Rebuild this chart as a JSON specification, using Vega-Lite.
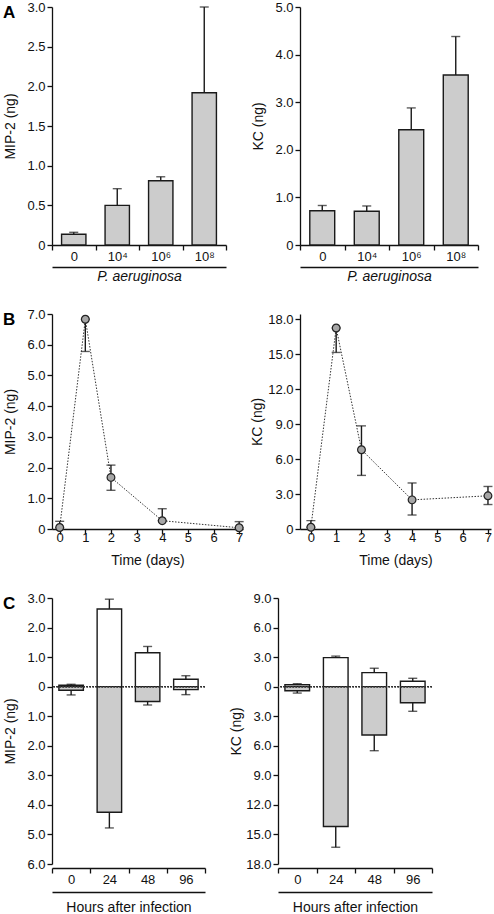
{
  "$schema": "https://vega.github.io/schema/vega-lite/v6.json",
  "background": "white",
  "padding": {"left": 3, "top": 1, "right": 2, "bottom": 0},
  "bounds": "full",
  "spacing": 25,
  "config": {
    "font": "Liberation Sans",
    "view": {"stroke": null},
    "axis": {"grid": false, "domainColor": "#111111", "tickColor": "#111111", "domainWidth": 1.3, "tickWidth": 1.3, "tickSize": 5, "labelFont": "Liberation Sans", "labelFontSize": 13, "labelColor": "#111111", "titleFont": "Liberation Sans", "titleFontSize": 14, "titleFontWeight": "normal", "titleColor": "#111111", "labelPadding": 2, "labelFlush": false, "labelOverlap": false},
    "axisX": {"labelPadding": 0},
    "title": {"font": "Liberation Sans", "fontSize": 17, "fontWeight": "bold", "anchor": "start", "frame": "group", "color": "#000000"}
  },
  "vconcat": [
    {
      "bounds": "flush",
      "spacing": 74,
      "hconcat": [
        {
          "width": 174, "height": 238,
          "title": {"text": "A", "dx": -49, "dy": 10, "offset": -24, "baseline": "alphabetic"},
          "data": {"values": [
            {"dose": "0", "mean": 0.135, "err": 0.16},
            {"dose": "10⁴", "mean": 0.50, "err": 0.71},
            {"dose": "10⁶", "mean": 0.81, "err": 0.86},
            {"dose": "10⁸", "mean": 1.92, "err": 3.0}
          ]},
          "resolve": {"axis": {"x": "independent"}},
          "layer": [
            {
              "mark": {"type": "bar", "fill": "#cccccc", "stroke": "#1a1a1a", "strokeWidth": 1.4, "width": {"band": 0.56}},
              "encoding": {
                "x": {"field": "dose", "type": "nominal", "sort": null, "scale": {"paddingInner": 0, "paddingOuter": 0}, "axis": {"title": null, "labelAngle": 0, "tickBand": "extent", "orient": "bottom"}},
                "y": {"field": "mean", "type": "quantitative", "scale": {"domain": [0, 3]}, "axis": {"title": "MIP-2 (ng)", "values": [0, 0.5, 1, 1.5, 2, 2.5, 3], "tickCount": 20, "labelExpr": "datum.value == 0 ? '0' : format(abs(datum.value), '.1f')", "titlePadding": 9}}
              }
            },
            {
              "mark": {"type": "rule", "stroke": "#1a1a1a", "strokeWidth": 1.4},
              "encoding": {
                "x": {"field": "dose", "type": "nominal", "sort": null, "axis": {"orient": "bottom", "offset": 22, "labels": false, "ticks": false, "domain": true, "title": "P. aeruginosa", "titleFontStyle": "italic", "titlePadding": 2}},
                "y": {"field": "mean", "type": "quantitative"},
                "y2": {"field": "err"}
              }
            },
            {
              "mark": {"type": "tick", "orient": "horizontal", "color": "#1a1a1a", "size": 9, "thickness": 1.4},
              "encoding": {
                "x": {"field": "dose", "type": "nominal", "sort": null, "axis": null},
                "y": {"field": "err", "type": "quantitative"}
              }
            }
          ]
        },
        {
          "width": 178, "height": 238,
          "data": {"values": [
            {"dose": "0", "mean": 0.72, "err": 0.83},
            {"dose": "10⁴", "mean": 0.71, "err": 0.82},
            {"dose": "10⁶", "mean": 2.42, "err": 2.88},
            {"dose": "10⁸", "mean": 3.57, "err": 4.38}
          ]},
          "resolve": {"axis": {"x": "independent"}},
          "layer": [
            {
              "mark": {"type": "bar", "fill": "#cccccc", "stroke": "#1a1a1a", "strokeWidth": 1.4, "width": {"band": 0.56}},
              "encoding": {
                "x": {"field": "dose", "type": "nominal", "sort": null, "scale": {"paddingInner": 0, "paddingOuter": 0}, "axis": {"title": null, "labelAngle": 0, "tickBand": "extent", "orient": "bottom"}},
                "y": {"field": "mean", "type": "quantitative", "scale": {"domain": [0, 5]}, "axis": {"title": "KC (ng)", "values": [0, 1, 2, 3, 4, 5], "tickCount": 20, "labelExpr": "datum.value == 0 ? '0' : format(abs(datum.value), '.1f')", "titlePadding": 9}}
              }
            },
            {
              "mark": {"type": "rule", "stroke": "#1a1a1a", "strokeWidth": 1.4},
              "encoding": {
                "x": {"field": "dose", "type": "nominal", "sort": null, "axis": {"orient": "bottom", "offset": 22, "labels": false, "ticks": false, "domain": true, "title": "P. aeruginosa", "titleFontStyle": "italic", "titlePadding": 2}},
                "y": {"field": "mean", "type": "quantitative"},
                "y2": {"field": "err"}
              }
            },
            {
              "mark": {"type": "tick", "orient": "horizontal", "color": "#1a1a1a", "size": 9, "thickness": 1.4},
              "encoding": {
                "x": {"field": "dose", "type": "nominal", "sort": null, "axis": null},
                "y": {"field": "err", "type": "quantitative"}
              }
            }
          ]
        }
      ]
    },
    {
      "bounds": "flush",
      "spacing": 57,
      "hconcat": [
        {
          "width": 191, "height": 215,
          "title": {"text": "B", "dx": -49, "dy": 10, "offset": -24, "baseline": "alphabetic"},
          "data": {"values": [
            {"day": 0, "mean": 0.05, "lo": 0.05, "hi": 0.25},
            {"day": 1, "mean": 6.83, "lo": 5.78, "hi": 6.83},
            {"day": 2, "mean": 1.68, "lo": 1.26, "hi": 2.08},
            {"day": 4, "mean": 0.27, "lo": 0.27, "hi": 0.66},
            {"day": 7, "mean": 0.04, "lo": 0.04, "hi": 0.24}
          ]},
          "encoding": {
            "x": {"field": "day", "type": "quantitative", "scale": {"domain": [-0.3, 7.15], "nice": false, "zero": false}, "axis": {"title": "Time (days)", "values": [0, 1, 2, 3, 4, 5, 6, 7], "tickCount": 20, "format": "d", "labelPadding": -3, "titlePadding": 9}}
          },
          "layer": [
            {
              "mark": {"type": "line", "stroke": "#333333", "strokeWidth": 1, "strokeDash": [1.5, 1.5]},
              "encoding": {
                "y": {"field": "mean", "type": "quantitative", "scale": {"domain": [0, 7], "nice": false}, "axis": {"title": "MIP-2 (ng)", "values": [0, 1, 2, 3, 4, 5, 6, 7], "tickCount": 20, "labelExpr": "datum.value == 0 ? '0' : format(abs(datum.value), '.1f')", "titlePadding": 9}}
              }
            },
            {
              "mark": {"type": "rule", "stroke": "#1a1a1a", "strokeWidth": 1.4},
              "encoding": {"y": {"field": "lo", "type": "quantitative"}, "y2": {"field": "hi"}}
            },
            {
              "mark": {"type": "tick", "orient": "horizontal", "color": "#1a1a1a", "size": 9, "thickness": 1.4},
              "encoding": {"y": {"field": "lo", "type": "quantitative"}}
            },
            {
              "mark": {"type": "tick", "orient": "horizontal", "color": "#1a1a1a", "size": 9, "thickness": 1.4},
              "encoding": {"y": {"field": "hi", "type": "quantitative"}}
            },
            {
              "mark": {"type": "circle", "size": 60, "fill": "#a6a6a6", "stroke": "#222222", "strokeWidth": 1.2, "opacity": 1},
              "encoding": {"y": {"field": "mean", "type": "quantitative"}}
            }
          ]
        },
        {
          "width": 191, "height": 215,
          "data": {"values": [
            {"day": 0, "mean": 0.15, "lo": 0.15, "hi": 0.72},
            {"day": 1, "mean": 17.25, "lo": 15.15, "hi": 17.25},
            {"day": 2, "mean": 6.8, "lo": 4.6, "hi": 8.85},
            {"day": 4, "mean": 2.5, "lo": 1.2, "hi": 3.95},
            {"day": 7, "mean": 2.85, "lo": 2.1, "hi": 3.65}
          ]},
          "encoding": {
            "x": {"field": "day", "type": "quantitative", "scale": {"domain": [-0.43, 7.12], "nice": false, "zero": false}, "axis": {"title": "Time (days)", "values": [0, 1, 2, 3, 4, 5, 6, 7], "tickCount": 20, "format": "d", "labelPadding": -3, "titlePadding": 9}}
          },
          "layer": [
            {
              "mark": {"type": "line", "stroke": "#333333", "strokeWidth": 1, "strokeDash": [1.5, 1.5]},
              "encoding": {
                "y": {"field": "mean", "type": "quantitative", "scale": {"domain": [0, 18.45], "nice": false}, "axis": {"title": "KC (ng)", "values": [0, 3, 6, 9, 12, 15, 18], "tickCount": 20, "labelExpr": "datum.value == 0 ? '0' : format(abs(datum.value), '.1f')", "titlePadding": 3}}
              }
            },
            {
              "mark": {"type": "rule", "stroke": "#1a1a1a", "strokeWidth": 1.4},
              "encoding": {"y": {"field": "lo", "type": "quantitative"}, "y2": {"field": "hi"}}
            },
            {
              "mark": {"type": "tick", "orient": "horizontal", "color": "#1a1a1a", "size": 9, "thickness": 1.4},
              "encoding": {"y": {"field": "lo", "type": "quantitative"}}
            },
            {
              "mark": {"type": "tick", "orient": "horizontal", "color": "#1a1a1a", "size": 9, "thickness": 1.4},
              "encoding": {"y": {"field": "hi", "type": "quantitative"}}
            },
            {
              "mark": {"type": "circle", "size": 60, "fill": "#a6a6a6", "stroke": "#222222", "strokeWidth": 1.2, "opacity": 1},
              "encoding": {"y": {"field": "mean", "type": "quantitative"}}
            }
          ]
        }
      ]
    },
    {
      "bounds": "flush",
      "spacing": 73,
      "hconcat": [
        {
          "width": 153, "height": 266,
          "title": {"text": "C", "dx": -49, "dy": 10, "offset": -24, "baseline": "alphabetic"},
          "data": {"values": [
            {"hour": "0", "set": "upper", "value": 0.05, "err": 0.08},
            {"hour": "24", "set": "upper", "value": 2.63, "err": 2.96},
            {"hour": "48", "set": "upper", "value": 1.15, "err": 1.36},
            {"hour": "96", "set": "upper", "value": 0.25, "err": 0.37},
            {"hour": "0", "set": "lower", "value": -0.12, "err": -0.28},
            {"hour": "24", "set": "lower", "value": -4.25, "err": -4.78},
            {"hour": "48", "set": "lower", "value": -0.5, "err": -0.62},
            {"hour": "96", "set": "lower", "value": -0.1, "err": -0.27}
          ]},
          "resolve": {"axis": {"x": "independent"}},
          "layer": [
            {
              "mark": {"type": "bar", "stroke": "#1a1a1a", "strokeWidth": 1.4, "width": {"band": 0.64}},
              "encoding": {
                "x": {"field": "hour", "type": "nominal", "sort": ["0", "24", "48", "96"], "scale": {"paddingInner": 0, "paddingOuter": 0}, "axis": {"title": null, "labelAngle": 0, "tickBand": "extent", "orient": "bottom", "offset": 4}},
                "y": {"field": "value", "type": "quantitative", "scale": {"domain": [-6, 3], "nice": false}, "axis": {"title": "MIP-2 (ng)", "values": [-6, -5, -4, -3, -2, -1, 0, 1, 2, 3], "tickCount": 20, "labelExpr": "datum.value == 0 ? '0' : format(abs(datum.value), '.1f')", "titlePadding": 9}},
                "fill": {"field": "set", "type": "nominal", "scale": {"domain": ["upper", "lower"], "range": ["#ffffff", "#cccccc"]}, "legend": null}
              }
            },
            {
              "mark": {"type": "rule", "stroke": "#1a1a1a", "strokeWidth": 1.4},
              "encoding": {
                "x": {"field": "hour", "type": "nominal", "sort": ["0", "24", "48", "96"], "axis": {"orient": "bottom", "offset": 28, "labels": false, "ticks": false, "domain": true, "title": "Hours after infection", "titlePadding": 8}},
                "y": {"field": "value", "type": "quantitative"},
                "y2": {"field": "err"}
              }
            },
            {
              "mark": {"type": "tick", "orient": "horizontal", "color": "#1a1a1a", "size": 9, "thickness": 1.4},
              "encoding": {
                "x": {"field": "hour", "type": "nominal", "sort": ["0", "24", "48", "96"], "axis": null},
                "y": {"field": "err", "type": "quantitative"}
              }
            },
            {
              "mark": {"type": "rule", "stroke": "#333333", "strokeWidth": 1, "strokeDash": [1.5, 1.5]},
              "encoding": {"y": {"datum": 0}}
            }
          ]
        },
        {
          "width": 154, "height": 266,
          "data": {"values": [
            {"hour": "0", "set": "upper", "value": 0.2, "err": 0.3},
            {"hour": "24", "set": "upper", "value": 2.95, "err": 3.1},
            {"hour": "48", "set": "upper", "value": 1.43, "err": 1.87},
            {"hour": "96", "set": "upper", "value": 0.55, "err": 0.85},
            {"hour": "0", "set": "lower", "value": -0.42, "err": -0.65},
            {"hour": "24", "set": "lower", "value": -14.2, "err": -16.3},
            {"hour": "48", "set": "lower", "value": -4.9, "err": -6.5},
            {"hour": "96", "set": "lower", "value": -1.63, "err": -2.5}
          ]},
          "resolve": {"axis": {"x": "independent"}},
          "layer": [
            {
              "mark": {"type": "bar", "stroke": "#1a1a1a", "strokeWidth": 1.4, "width": {"band": 0.64}},
              "encoding": {
                "x": {"field": "hour", "type": "nominal", "sort": ["0", "24", "48", "96"], "scale": {"paddingInner": 0, "paddingOuter": 0}, "axis": {"title": null, "labelAngle": 0, "tickBand": "extent", "orient": "bottom", "offset": 4}},
                "y": {"field": "value", "type": "quantitative", "scale": {"domain": [-18, 9], "nice": false}, "axis": {"title": "KC (ng)", "values": [-18, -15, -12, -9, -6, -3, 0, 3, 6, 9], "tickCount": 20, "labelExpr": "datum.value == 0 ? '0' : format(abs(datum.value), '.1f')", "titlePadding": 2}},
                "fill": {"field": "set", "type": "nominal", "scale": {"domain": ["upper", "lower"], "range": ["#ffffff", "#cccccc"]}, "legend": null}
              }
            },
            {
              "mark": {"type": "rule", "stroke": "#1a1a1a", "strokeWidth": 1.4},
              "encoding": {
                "x": {"field": "hour", "type": "nominal", "sort": ["0", "24", "48", "96"], "axis": {"orient": "bottom", "offset": 28, "labels": false, "ticks": false, "domain": true, "title": "Hours after infection", "titlePadding": 8}},
                "y": {"field": "value", "type": "quantitative"},
                "y2": {"field": "err"}
              }
            },
            {
              "mark": {"type": "tick", "orient": "horizontal", "color": "#1a1a1a", "size": 9, "thickness": 1.4},
              "encoding": {
                "x": {"field": "hour", "type": "nominal", "sort": ["0", "24", "48", "96"], "axis": null},
                "y": {"field": "err", "type": "quantitative"}
              }
            },
            {
              "mark": {"type": "rule", "stroke": "#333333", "strokeWidth": 1, "strokeDash": [1.5, 1.5]},
              "encoding": {"y": {"datum": 0}}
            }
          ]
        }
      ]
    }
  ]
}
